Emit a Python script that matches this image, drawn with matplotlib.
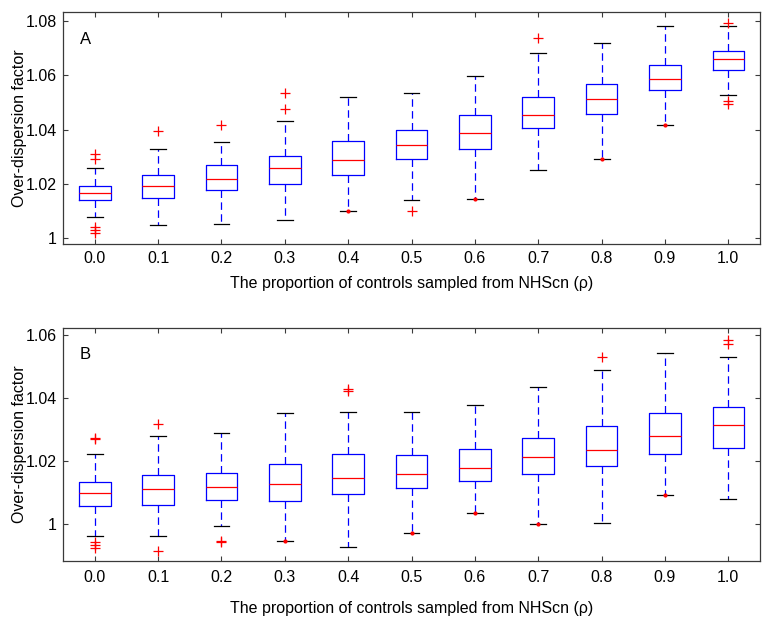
import matplotlib
matplotlib.use("Agg")
import matplotlib.pyplot as plt
import numpy as np

plt.rcParams['font.family'] = ['Liberation Sans', 'DejaVu Sans']

groups = ['0.0', '0.1', '0.2', '0.3', '0.4', '0.5', '0.6', '0.7', '0.8', '0.9', '1.0']
xlabel = 'The proportion of controls sampled from NHScn (\u03c1)'
ylabel = 'Over-dispersion factor'

# Panel A
A_hi  = [1.0258, 1.0330, 1.0353, 1.0432, 1.0520, 1.0533, 1.0598, 1.0681, 1.0719, 1.0783, 1.0783]
A_q3  = [1.0190, 1.0233, 1.0269, 1.0304, 1.0357, 1.0399, 1.0455, 1.0519, 1.0567, 1.0639, 1.0688]
A_med = [1.0167, 1.0190, 1.0218, 1.0258, 1.0288, 1.0342, 1.0387, 1.0453, 1.0512, 1.0587, 1.0660]
A_q1  = [1.0140, 1.0148, 1.0178, 1.0200, 1.0232, 1.0291, 1.0330, 1.0405, 1.0456, 1.0545, 1.0618]
A_lo  = [1.0077, 1.0049, 1.0052, 1.0067, 1.0098, 1.0140, 1.0145, 1.0250, 1.0293, 1.0416, 1.0526]
A_out = [[1.0309, 1.0292, 1.0039, 1.0029, 1.0020], [1.0393], [1.0416], [1.0536, 1.0477],
         [], [1.0098], [], [1.0739], [], [], [1.0794, 1.0504, 1.0494]]
A_dot = ['0.4', '0.6', '0.8', '0.9']
A_yticks = [1.00, 1.02, 1.04, 1.06, 1.08]
A_yticklabels = ['1', '1.02', '1.04', '1.06', '1.08']

# Panel B
B_hi  = [1.0220, 1.0280, 1.0287, 1.0352, 1.0356, 1.0356, 1.0376, 1.0433, 1.0488, 1.0544, 1.0531]
B_q3  = [1.0132, 1.0155, 1.0161, 1.0191, 1.0220, 1.0217, 1.0237, 1.0271, 1.0310, 1.0352, 1.0371]
B_med = [1.0096, 1.0110, 1.0116, 1.0127, 1.0145, 1.0157, 1.0178, 1.0213, 1.0235, 1.0280, 1.0314]
B_q1  = [1.0057, 1.0059, 1.0076, 1.0073, 1.0094, 1.0114, 1.0136, 1.0157, 1.0184, 1.0220, 1.0239]
B_lo  = [0.9962, 0.9960, 0.9993, 0.9944, 0.9926, 0.9969, 1.0035, 1.0000, 1.0002, 1.0090, 1.0079]
B_out = [[1.0273, 1.0270, 0.9943, 0.9933, 0.9923], [1.0317, 0.9914], [0.9946, 0.9943], [],
         [1.0427, 1.0422], [], [], [], [1.0529], [], [1.0585, 1.0572]]
B_dot = ['0.3', '0.5', '0.6', '0.7', '0.9']
B_yticks = [1.00, 1.02, 1.04, 1.06]
B_yticklabels = ['1', '1.02', '1.04', '1.06']

FS = 11.5
SPINE = '#3a3a3a'


def draw(ax, hi, q3, med, q1, lo, out, dots, ylim, yticks, yticklabels, tag, xpad, xlab_y, tag_y):
    positions = np.arange(1, len(groups) + 1)
    stats = []
    for i, g in enumerate(groups):
        stats.append(dict(med=med[i], q1=q1[i], q3=q3[i], whislo=lo[i], whishi=hi[i],
                          fliers=np.array(out[i]), label=g))
    ax.bxp(stats, positions=positions, widths=0.5, capwidths=0.25, showfliers=True,
           boxprops=dict(color='blue', lw=0.9),
           whiskerprops=dict(color='blue', lw=0.9, linestyle=(0, (6, 3.5))),
           capprops=dict(color='black', lw=0.9),
           medianprops=dict(color='red', lw=0.9),
           flierprops=dict(marker='+', markeredgecolor='red', markerfacecolor='none',
                           markersize=6.5, markeredgewidth=0.9, linestyle='none'))
    for g in dots:
        i = groups.index(g)
        ax.plot(positions[i], lo[i], marker='o', ms=2.0, color='red', mec='red', zorder=5)
    ax.set_xlim(0.5, len(groups) + 0.5)
    ax.set_ylim(*ylim)
    ax.set_xticks(positions)
    ax.set_xticklabels(groups)
    ax.set_yticks(yticks)
    ax.set_yticklabels(yticklabels)
    ax.tick_params(direction='in', top=True, right=True, length=3.6, width=0.8,
                   color=SPINE, labelsize=FS, labelcolor='black')
    ax.tick_params(axis='x', pad=xpad)
    ax.tick_params(axis='y', pad=4.3)
    for s in ax.spines.values():
        s.set_color(SPINE)
        s.set_linewidth(0.9)
    ax.set_xlabel(xlabel, fontsize=FS)
    ax.xaxis.set_label_coords(0.5, xlab_y)
    ax.set_ylabel(ylabel, fontsize=FS)
    ax.yaxis.set_label_coords(-0.052, 0.5)
    ax.text(0.0244, tag_y, tag, transform=ax.transAxes, fontsize=FS + 0.5,
            ha='left', va='baseline')


fig = plt.figure(figsize=(7.75, 6.26), dpi=100)
axA = fig.add_axes([0.0813, 0.6102, 0.8994, 0.3706])
axB = fig.add_axes([0.0813, 0.1043, 0.8994, 0.3712])

draw(axA, A_hi, A_q3, A_med, A_q1, A_lo, A_out, A_dot, (0.9978, 1.0833),
     A_yticks, A_yticklabels, 'A', 5.0, -0.138, 0.862)
draw(axB, B_hi, B_q3, B_med, B_q1, B_lo, B_out, B_dot, (0.9882, 1.0621),
     B_yticks, B_yticklabels, 'B', 7.0, -0.172, 0.8666)

fig.savefig('out.png', dpi=100)
